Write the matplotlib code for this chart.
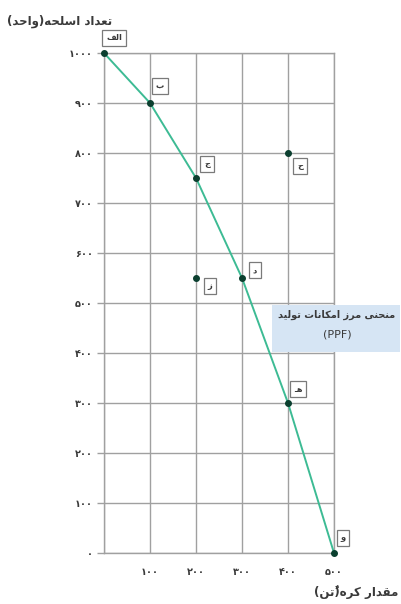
import matplotlib
matplotlib.use("Agg")
import matplotlib.pyplot as plt
from matplotlib.patches import Rectangle

# --- data (PPF: کره / اسلحه) ---
ppf_x = [0, 100, 200, 300, 400, 500]
ppf_y = [1000, 900, 750, 550, 300, 0]
ppf_labels = ["الف", "ب", "ج", "د", "هـ", "و"]

extra_x = [200, 400]
extra_y = [550, 800]
extra_labels = ["ز", "ح"]

x_ticks = [100, 200, 300, 400, 500]
y_ticks = [0, 100, 200, 300, 400, 500, 600, 700, 800, 900, 1000]

y_title = "تعداد اسلحه(واحد)"
x_title = "مقدار کره(تُن)"
ppf_title = "منحنی مرز امکانات تولید"

# label offsets in pixels (dx, dy)
ppf_offsets = [(10, 15), (10, 17), (11, 14), (13, 8), (10, 14), (9, 15)]
extra_offsets = [(14, -8), (12, -13)]

# Persian glyph forms (iso, fin, ini, med); None = does not join the next letter
FORMS = {
    "ا": (0xFE8D, 0xFE8E, None, None),
    "ب": (0xFE8F, 0xFE90, 0xFE91, 0xFE92),
    "ت": (0xFE95, 0xFE96, 0xFE97, 0xFE98),
    "ج": (0xFE9D, 0xFE9E, 0xFE9F, 0xFEA0),
    "ح": (0xFEA1, 0xFEA2, 0xFEA3, 0xFEA4),
    "د": (0xFEA9, 0xFEAA, None, None),
    "ر": (0xFEAD, 0xFEAE, None, None),
    "ز": (0xFEAF, 0xFEB0, None, None),
    "س": (0xFEB1, 0xFEB2, 0xFEB3, 0xFEB4),
    "ع": (0xFEC9, 0xFECA, 0xFECB, 0xFECC),
    "ف": (0xFED1, 0xFED2, 0xFED3, 0xFED4),
    "ق": (0xFED5, 0xFED6, 0xFED7, 0xFED8),
    "ک": (0xFB8E, 0xFB8F, 0xFEDB, 0xFEDC),
    "ل": (0xFEDD, 0xFEDE, 0xFEDF, 0xFEE0),
    "م": (0xFEE1, 0xFEE2, 0xFEE3, 0xFEE4),
    "ن": (0xFEE5, 0xFEE6, 0xFEE7, 0xFEE8),
    "ه": (0xFEE9, 0xFEEA, 0xFEEB, 0xFEEC),
    "و": (0xFEED, 0xFEEE, None, None),
    "ی": (0xFEEF, 0xFEF0, 0xFEF3, 0xFEF4),
    "ـ": (0x0640, 0x0640, 0x0640, 0x0640),
}
MARKS = set("\u064e\u064f\u0650\u0651\u0652")
MIRROR = {"(": ")", ")": "("}


def fa(text):
    """Shape Persian text and put it in visual (left-to-right) order."""
    chars = list(text)
    n = len(chars)
    clusters = []
    for i, c in enumerate(chars):
        if c in MARKS:
            clusters[-1] += c
            continue
        if c not in FORMS:
            clusters.append(MIRROR.get(c, c))
            continue
        j = i - 1
        while j >= 0 and chars[j] in MARKS:
            j -= 1
        k = i + 1
        while k < n and chars[k] in MARKS:
            k += 1
        prev_joins = j >= 0 and chars[j] in FORMS and FORMS[chars[j]][2] is not None
        next_joins = k < n and chars[k] in FORMS and FORMS[c][2] is not None
        iso, fin, ini, med = FORMS[c]
        if prev_joins and next_joins:
            g = med
        elif prev_joins:
            g = fin
        elif next_joins:
            g = ini
        else:
            g = iso
        clusters.append(chr(g))
    return "".join(reversed(clusters))


def fa_num(v):
    return str(v).translate(str.maketrans("0123456789", "۰۱۲۳۴۵۶۷۸۹"))


plt.rcParams["font.family"] = ["DejaVu Sans"]

GRID = "#a0a0a0"
TEXT = "#3a3a3a"
LINE = "#3dbb94"
DOT = "#0b3f2f"

W, H = 401, 604
fig = plt.figure(figsize=(W / 100, H / 100), dpi=100)
ax = fig.add_axes([104 / W, 51 / H, 230 / W, 500 / H])

ax.set_xlim(0, 500)
ax.set_ylim(0, 1000)
ax.set_xticks([0] + x_ticks)
ax.set_xticklabels([""] + [fa_num(v) for v in x_ticks])
ax.set_yticks(y_ticks)
ax.set_yticklabels([fa_num(v) for v in y_ticks])
ax.grid(True, color=GRID, linewidth=1.0)
ax.set_axisbelow(True)
for s in ax.spines.values():
    s.set_color(GRID)
    s.set_linewidth(1.0)

ax.tick_params(axis="y", length=5, width=1.0, color=GRID, pad=3,
               labelsize=7, labelcolor=TEXT)
ax.tick_params(axis="x", length=0, pad=10, labelsize=7, labelcolor=TEXT)
for lab in ax.get_xticklabels() + ax.get_yticklabels():
    lab.set_fontweight("bold")

# PPF curve and points
ax.plot(ppf_x, ppf_y, color=LINE, linewidth=1.4, zorder=3, clip_on=False)
ax.plot(ppf_x, ppf_y, "o", color=DOT, markersize=4, zorder=4, clip_on=False)
ax.plot(extra_x, extra_y, "o", color=DOT, markersize=4, zorder=4, clip_on=False)

box = dict(boxstyle="square,pad=0.45", fc="white", ec="#7a7a7a", lw=0.9)
for x, y, lab, off in zip(ppf_x + extra_x, ppf_y + extra_y,
                          ppf_labels + extra_labels, ppf_offsets + extra_offsets):
    ax.annotate(fa(lab), (x, y), xytext=off, textcoords="offset pixels",
                ha="center", va="center", fontsize=6, color=TEXT,
                fontweight="bold", bbox=box, zorder=5, annotation_clip=False)

# axis titles
fig.text(60 / W, 1 - 21 / H, fa(y_title), ha="center", va="center",
         fontsize=8.5, fontweight="bold", color=TEXT)
fig.text(356 / W, 1 - 592 / H, fa(x_title), ha="center", va="center",
         fontsize=8.5, fontweight="bold", color=TEXT)

# PPF callout box
fig.patches.append(Rectangle((272 / W, 1 - 352 / H), 128 / W, 47 / H,
                             transform=fig.transFigure, facecolor="#d6e5f4",
                             edgecolor="none", zorder=6))
fig.text(337 / W, 1 - 315 / H, fa(ppf_title), ha="center", va="center",
         fontsize=7, fontweight="bold", color=TEXT, zorder=7)
fig.text(337 / W, 1 - 334 / H, "(PPF)", ha="center", va="center",
         fontsize=8, color=TEXT, zorder=7)

fig.savefig("out.png", dpi=100)
